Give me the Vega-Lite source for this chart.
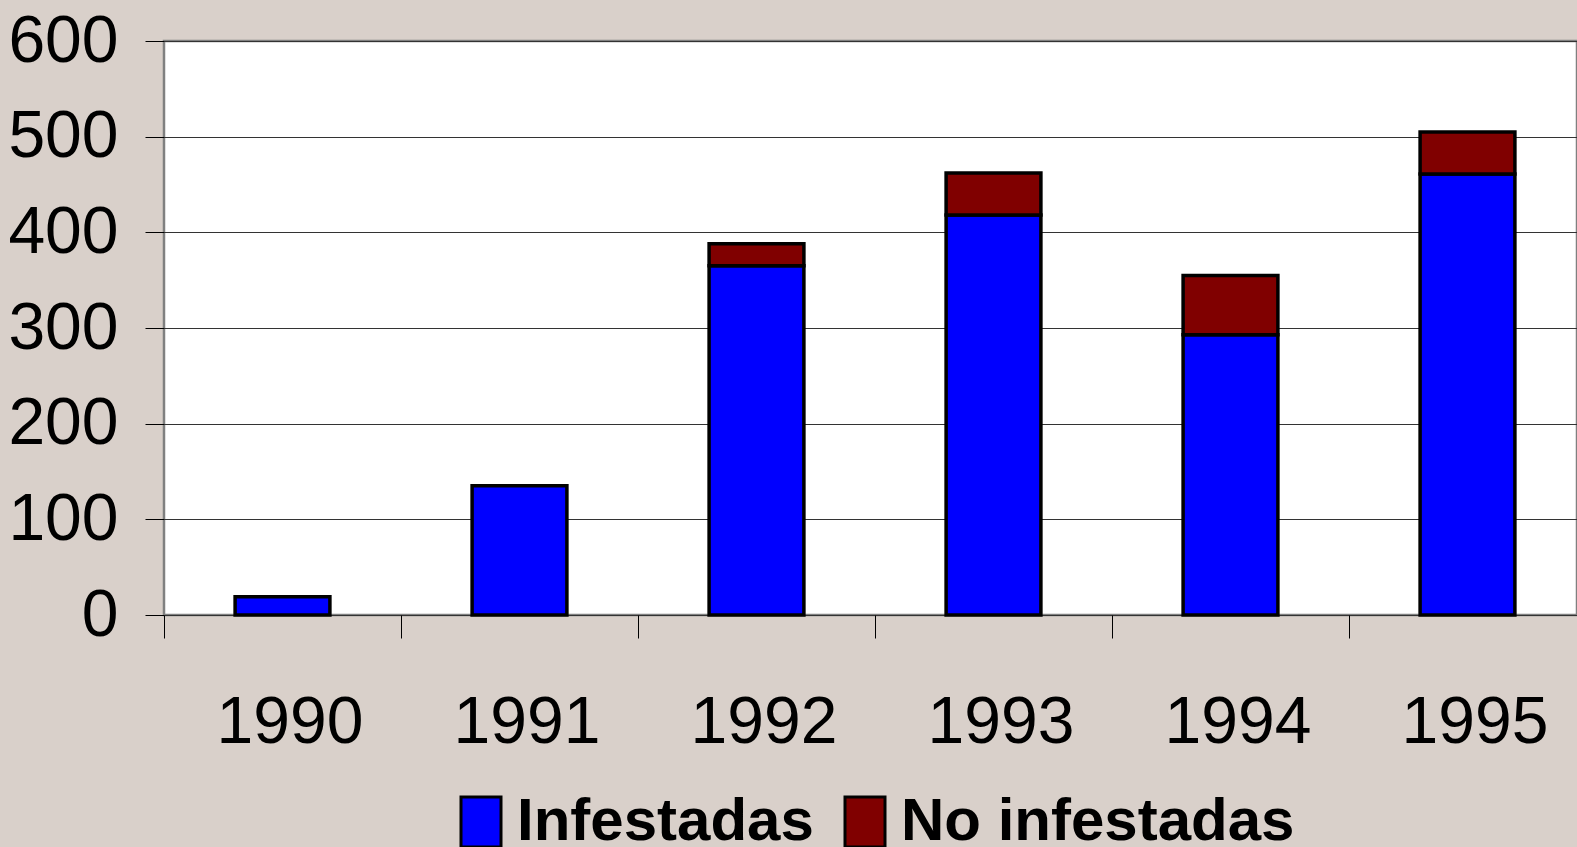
{
  "$schema": "https://vega.github.io/schema/vega-lite/v6.json",
  "autosize": "none",
  "padding": {"left": 164, "top": 41, "right": 0, "bottom": 232},
  "width": 1413,
  "height": 574,
  "background": "#D9D0CA",
  "config": {
    "view": {"fill": "#FFFFFF", "stroke": "#808080", "strokeWidth": 2.5},
    "font": "Liberation Sans"
  },
  "data": {
    "values": [
      {"year": "1990", "serie": "Infestadas", "value": 19},
      {"year": "1991", "serie": "Infestadas", "value": 135},
      {"year": "1992", "serie": "Infestadas", "value": 365},
      {"year": "1992", "serie": "No infestadas", "value": 23},
      {"year": "1993", "serie": "Infestadas", "value": 418},
      {"year": "1993", "serie": "No infestadas", "value": 44},
      {"year": "1994", "serie": "Infestadas", "value": 293},
      {"year": "1994", "serie": "No infestadas", "value": 62},
      {"year": "1995", "serie": "Infestadas", "value": 461},
      {"year": "1995", "serie": "No infestadas", "value": 44}
    ]
  },
  "mark": {"type": "bar", "stroke": "#000000", "strokeWidth": 3.5, "strokeJoin": "miter"},
  "encoding": {
    "x": {
      "field": "year",
      "type": "nominal",
      "scale": {"range": [0, 1422], "paddingInner": 0.6, "paddingOuter": 0.3},
      "axis": {
        "title": null,
        "labelAngle": 0,
        "domain": false,
        "ticks": true,
        "tickOffset": -118.5,
        "tickSize": 23,
        "tickColor": "#000000",
        "tickWidth": 1,
        "labelFont": "Liberation Sans",
        "labelFontSize": 66,
        "labelColor": "#000000",
        "labelPadding": 52,
        "labelOffset": 125.5
      }
    },
    "y": {
      "field": "value",
      "type": "quantitative",
      "aggregate": "sum",
      "stack": "zero",
      "scale": {"domain": [0, 600], "nice": false},
      "axis": {
        "title": null,
        "values": [0, 100, 200, 300, 400, 500, 600],
        "domain": false,
        "grid": true,
        "gridColor": "#333333",
        "gridWidth": 1,
        "ticks": true,
        "tickSize": 19,
        "tickColor": "#000000",
        "tickWidth": 1,
        "labelFont": "Liberation Sans",
        "labelFontSize": 66,
        "labelColor": "#000000",
        "labelPadding": 27
      }
    },
    "order": {"field": "serie", "sort": "ascending"},
    "color": {
      "field": "serie",
      "type": "nominal",
      "scale": {"domain": ["Infestadas", "No infestadas"], "range": ["#0000FF", "#800000"]},
      "legend": {
        "title": null,
        "orient": "none",
        "direction": "horizontal",
        "legendX": 287,
        "legendY": 751,
        "symbolType": "M-0.8,-1H0.8V1H-0.8Z",
        "symbolSize": 2500,
        "symbolStrokeColor": "#000000",
        "symbolStrokeWidth": 3,
        "symbolOpacity": 1,
        "labelFont": "Liberation Sans",
        "labelFontSize": 60,
        "labelFontWeight": "bold",
        "labelColor": "#000000",
        "labelOffset": 6,
        "columnPadding": 21,
        "labelLimit": 1000
      }
    }
  }
}
